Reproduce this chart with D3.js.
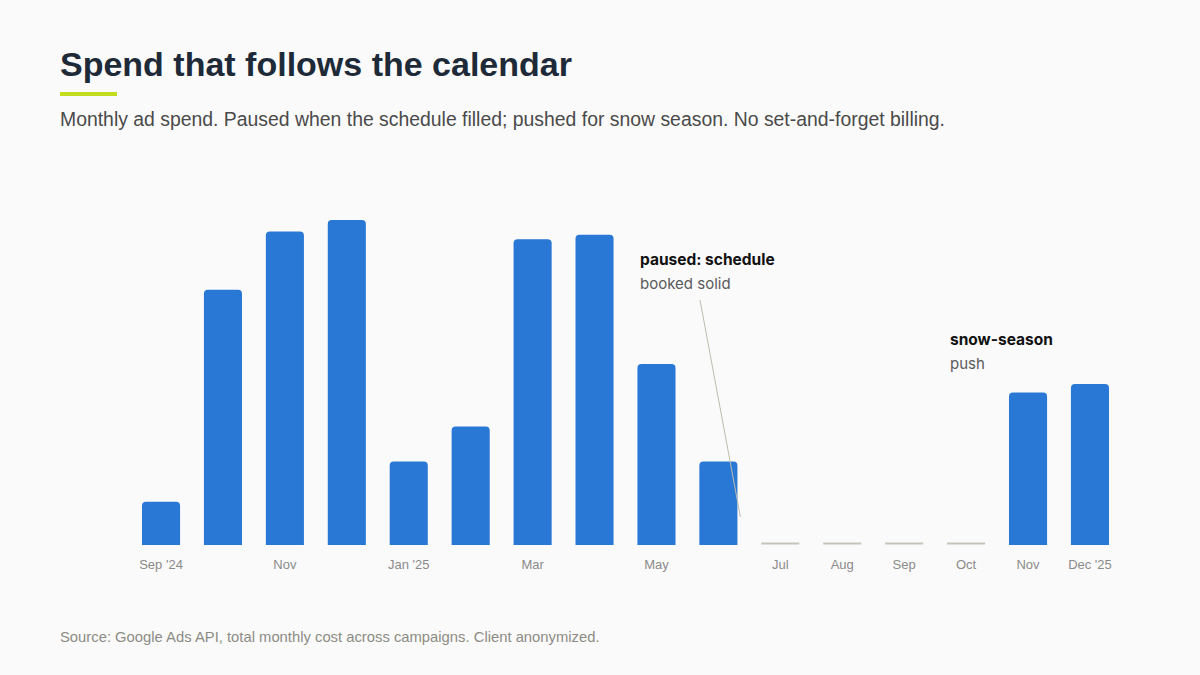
<!DOCTYPE html>
<html lang="en">
<head>
<meta charset="UTF-8">
<title>Spend that follows the calendar</title>
<style>
  html, body { margin: 0; padding: 0; background: #fafafa; }
  svg { display: block; }
</style>
</head>
<body>
<div id="chart"></div>
<script src="https://cdnjs.cloudflare.com/ajax/libs/d3/7.8.5/d3.min.js"></script>
<script>
// months, Sep 2024 .. Dec 2025
const months = ["2024-09","2024-10","2024-11","2024-12","2025-01","2025-02","2025-03","2025-04",
                "2025-05","2025-06","2025-07","2025-08","2025-09","2025-10","2025-11","2025-12"];
// monthly spend in USD
const spend = [560, 3300, 4050, 4200, 1080, 1530, 3950, 4010, 2340, 1080, 0, 0, 0, 0, 1970, 2080];
// tick labels ("" = no label under that bar)
const tickLabels = ["Sep '24","","Nov","","Jan '25","","Mar","","May","","Jul","Aug","Sep","Oct","Nov","Dec '25"];

const W = 1200, H = 675;
const font = "'Liberation Sans', Arial, sans-serif";

const svg = d3.select("#chart").append("svg")
    .attr("width", W).attr("height", H);

svg.append("rect").attr("width", W).attr("height", H).attr("fill", "#fafafa");

// header
svg.append("text")
    .attr("x", 60).attr("y", 76)
    .attr("font-family", font).attr("font-weight", 700).attr("font-size", 34)
    .attr("fill", "#1e2a38")
    .text("Spend that follows the calendar");

svg.append("rect")
    .attr("x", 60).attr("y", 92).attr("width", 57).attr("height", 4)
    .attr("fill", "#c3dc1e");

svg.append("text")
    .attr("x", 60).attr("y", 126)
    .attr("font-family", font).attr("font-size", 19.4)
    .attr("fill", "#4a4a4a")
    .text("Monthly ad spend. Paused when the schedule filled; pushed for snow season. No set-and-forget billing.");

// scales
const x = d3.scaleBand()
    .domain(months)
    .range([129.6, 1121.4])
    .paddingInner(0.385)
    .paddingOuter(0.2);

const baseY = 545;
const y = d3.scaleLinear()
    .domain([0, d3.max(spend)])
    .range([baseY, 220]);

const data = months.map((m, i) => ({ m, v: spend[i], label: tickLabels[i] }));

// bar with rounded top corners
const barPath = d => {
  const x0 = x(d.m), w = x.bandwidth(), y0 = y(d.v), r = Math.min(4, (baseY - y0) / 2);
  return `M${x0},${baseY}V${y0 + r}Q${x0},${y0} ${x0 + r},${y0}H${x0 + w - r}` +
         `Q${x0 + w},${y0} ${x0 + w},${y0 + r}V${baseY}Z`;
};

svg.append("g").selectAll("path")
    .data(data.filter(d => d.v > 0))
    .join("path")
    .attr("d", barPath)
    .attr("fill", "#2a78d6");

// paused months: thin grey stub on the baseline
svg.append("g").selectAll("rect")
    .data(data.filter(d => d.v === 0))
    .join("rect")
    .attr("x", d => x(d.m))
    .attr("y", baseY - 2.5)
    .attr("width", x.bandwidth())
    .attr("height", 2)
    .attr("fill", "#c6c4b8");

// x labels
const xAxis = d3.axisBottom(x)
    .tickSize(0)
    .tickPadding(0)
    .tickFormat((m, i) => tickLabels[i]);

const gx = svg.append("g")
    .attr("transform", `translate(0,${baseY})`)
    .call(xAxis);
gx.select(".domain").remove();
gx.selectAll("text")
    .attr("dy", null)
    .attr("y", 24)
    .attr("font-family", font)
    .attr("font-size", 13)
    .attr("fill", "#8a8a8a");

// annotations
const annFont = "Inter, 'Liberation Sans', sans-serif";
const junX = x("2025-06") + x.bandwidth();

svg.append("line")
    .attr("x1", 700).attr("y1", 300)
    .attr("x2", junX + 3).attr("y2", 517)
    .attr("stroke", "#bdbcae").attr("stroke-width", 1);

function note(xp, yp, head, body) {
  svg.append("text").attr("x", xp).attr("y", yp)
      .attr("font-family", annFont).attr("font-weight", 700).attr("font-size", 15.5)
      .attr("fill", "#111").text(head);
  svg.append("text").attr("x", xp).attr("y", yp + 24)
      .attr("font-family", annFont).attr("font-size", 15)
      .attr("fill", "#5a5a5a").text(body);
}
note(640, 265, "paused: schedule", "booked solid");
note(950, 345, "snow-season", "push");

// footer
svg.append("text")
    .attr("x", 60).attr("y", 642)
    .attr("font-family", font).attr("font-size", 14.8)
    .attr("fill", "#8c8c84")
    .text("Source: Google Ads API, total monthly cost across campaigns. Client anonymized.");
</script>
</body>
</html>
